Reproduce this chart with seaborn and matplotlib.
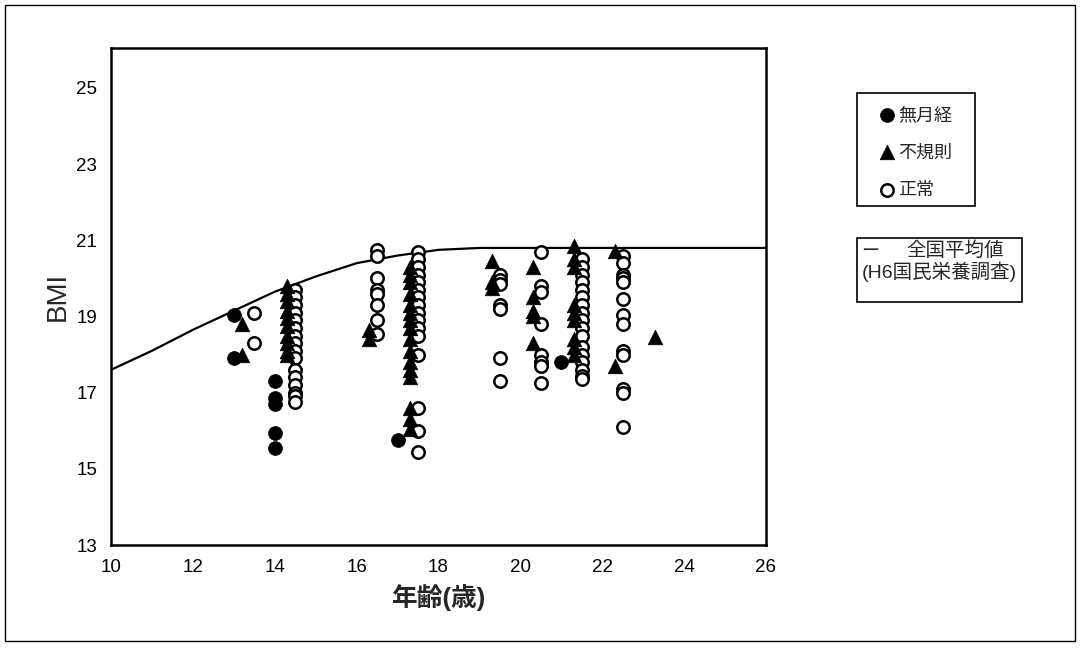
import numpy as np
import pandas as pd
import matplotlib
matplotlib.use("Agg")
import matplotlib.pyplot as plt
from matplotlib.patches import Rectangle
import seaborn as sns

# ============================================================================
# DATA
# ============================================================================

# 無月経 (amenorrhea) - filled circles
amen_age = [13.0, 13.0, 14.0, 14.0, 14.0, 14.0, 14.0, 17.0, 21.0]
amen_bmi = [19.05, 17.9, 17.3, 16.85, 16.7, 15.95, 15.55, 15.75, 17.8]

# 不規則 (irregular) - filled triangles
irreg_age = ([13.2] * 2 + [14.3] * 10 + [16.3] * 2 + [17.3] * 16 + [19.3] * 3
             + [20.3] * 5 + [21.3] * 9 + [22.3] * 2 + [23.3])
irreg_bmi = [18.8, 18.0,
             19.8, 19.6, 19.4, 19.15, 18.95, 18.75, 18.5, 18.3, 18.1, 18.0,
             18.65, 18.4,
             20.3, 20.1, 19.9, 19.6, 19.3, 19.1, 18.9, 18.7, 18.4, 18.1, 17.8,
             17.6, 17.4, 16.6, 16.3, 16.05,
             20.45, 19.9, 19.75,
             20.3, 19.5, 19.15, 19.0, 18.3,
             20.85, 20.5, 20.3, 19.3, 19.1, 18.9, 18.4, 18.2, 18.0,
             20.72, 17.7,
             18.45]

# 正常 (normal) - open circles
norm_age = ([13.5] * 2 + [14.5] * 16 + [16.5] * 8 + [17.5] * 16 + [19.5] * 7
            + [20.5] * 8 + [21.5] * 17 + [22.5] * 13)
norm_bmi = [19.1, 18.3,
            19.7, 19.5, 19.3, 19.1, 18.9, 18.7, 18.5, 18.3, 18.1, 17.9, 17.6,
            17.4, 17.2, 17.0, 16.9, 16.75,
            20.75, 20.6, 20.0, 19.7, 19.6, 19.3, 18.9, 18.55,
            20.7, 20.5, 20.3, 20.1, 19.9, 19.7, 19.5, 19.3, 19.1, 18.9, 18.7,
            18.5, 18.0, 16.6, 16.0, 15.45,
            20.1, 19.95, 19.85, 19.3, 19.2, 17.9, 17.3,
            20.7, 19.8, 19.65, 18.8, 18.0, 17.8, 17.7, 17.25,
            20.5, 20.3, 20.1, 19.9, 19.7, 19.5, 19.3, 19.1, 18.9, 18.7, 18.5,
            18.2, 18.0, 17.8, 17.6, 17.45, 17.35,
            20.6, 20.4, 20.1, 20.0, 19.9, 19.45, 19.05, 18.8, 18.1, 18.0, 17.1,
            17.0, 16.1]

# 全国平均値 (H6国民栄養調査)
national_age = [10, 11, 12, 13, 14, 15, 16, 17, 18, 19, 20, 26]
national_bmi = [17.6, 18.1, 18.65, 19.15, 19.65, 20.05, 20.4, 20.6, 20.75, 20.8, 20.8, 20.8]

status_labels = ["無月経", "不規則", "正常"]
x_ticks = [10, 12, 14, 16, 18, 20, 22, 24, 26]
y_ticks = [13, 15, 17, 19, 21, 23, 25]

# ============================================================================
# PLOT
# ============================================================================

sns.set_style("white")
plt.rcParams['font.family'] = ['Liberation Sans', 'Noto Sans CJK JP', 'DejaVu Sans']

W, H = 1081, 649
fig = plt.figure(figsize=(W / 100, H / 100), dpi=100)
ax = fig.add_axes([111 / W, 1 - 545 / H, (766 - 111) / W, (545 - 48) / H])

nat_df = pd.DataFrame({'age': national_age, 'bmi': national_bmi})
sns.lineplot(data=nat_df, x='age', y='bmi', color='black', linewidth=1.6, ax=ax)

amen_df = pd.DataFrame({'age': amen_age, 'bmi': amen_bmi})
irreg_df = pd.DataFrame({'age': irreg_age, 'bmi': irreg_bmi})
norm_df = pd.DataFrame({'age': norm_age, 'bmi': norm_bmi})

sns.scatterplot(data=norm_df, x='age', y='bmi', marker='o', s=80,
                facecolor='white', edgecolor='black', linewidth=1.8,
                label=status_labels[2], ax=ax, zorder=3)
sns.scatterplot(data=irreg_df, x='age', y='bmi', marker='^', s=110,
                color='black', edgecolor='black', linewidth=0.5,
                label=status_labels[1], ax=ax, zorder=4)
sns.scatterplot(data=amen_df, x='age', y='bmi', marker='o', s=100,
                color='black', edgecolor='black', linewidth=0.5,
                label=status_labels[0], ax=ax, zorder=5)

ax.set_xlim(10, 26)
ax.set_ylim(13, 26.05)
ax.set_xticks(x_ticks)
ax.set_yticks(y_ticks)
ax.tick_params(direction='in', length=4, width=1, labelsize=13.5, pad=10,
               colors='black')
for sp in ax.spines.values():
    sp.set_color('black')
    sp.set_linewidth(1.8)

ax.set_xlabel("年齢(歳)", fontsize=18.5, fontweight='bold', labelpad=6)
ax.set_ylabel("BMI", fontsize=20, labelpad=4)

# marker legend (frame drawn separately to match the reference box size)
handles, labels = ax.get_legend_handles_labels()
order = [labels.index(l) for l in status_labels]
leg = ax.legend([handles[i] for i in order], [labels[i] for i in order],
                loc='upper left', bbox_to_anchor=(878 / W, 1 - 107 / H),
                bbox_transform=fig.transFigure, frameon=False,
                fontsize=13, labelspacing=1.12,
                handletextpad=0.1, handlelength=1.0, borderpad=0.0,
                borderaxespad=0, markerscale=1.0)
fig.patches.append(Rectangle((857 / W, 1 - 206 / H), (975 - 857) / W, (206 - 93) / H,
                             transform=fig.transFigure, fill=False,
                             edgecolor='black', linewidth=1.2))

# national average note box
fig.patches.append(Rectangle((857 / W, 1 - 302 / H), (1022 - 857) / W, (302 - 238) / H,
                             transform=fig.transFigure, fill=False,
                             edgecolor='black', linewidth=1.2))
fig.text(861 / W, 1 - 251 / H, "ー", fontsize=13, va='center', ha='left')
fig.text(955 / W, 1 - 251 / H, "全国平均値", fontsize=14, va='center', ha='center')
fig.text(939 / W, 1 - 272 / H, "(H6国民栄養調査)", fontsize=14, va='center', ha='center')

# outer frame
fig.patches.append(Rectangle((5 / W, 1 - 641 / H), (1075 - 5) / W, (641 - 5) / H,
                             transform=fig.transFigure, fill=False,
                             edgecolor='black', linewidth=1.0))

fig.savefig("out.png", dpi=100)
